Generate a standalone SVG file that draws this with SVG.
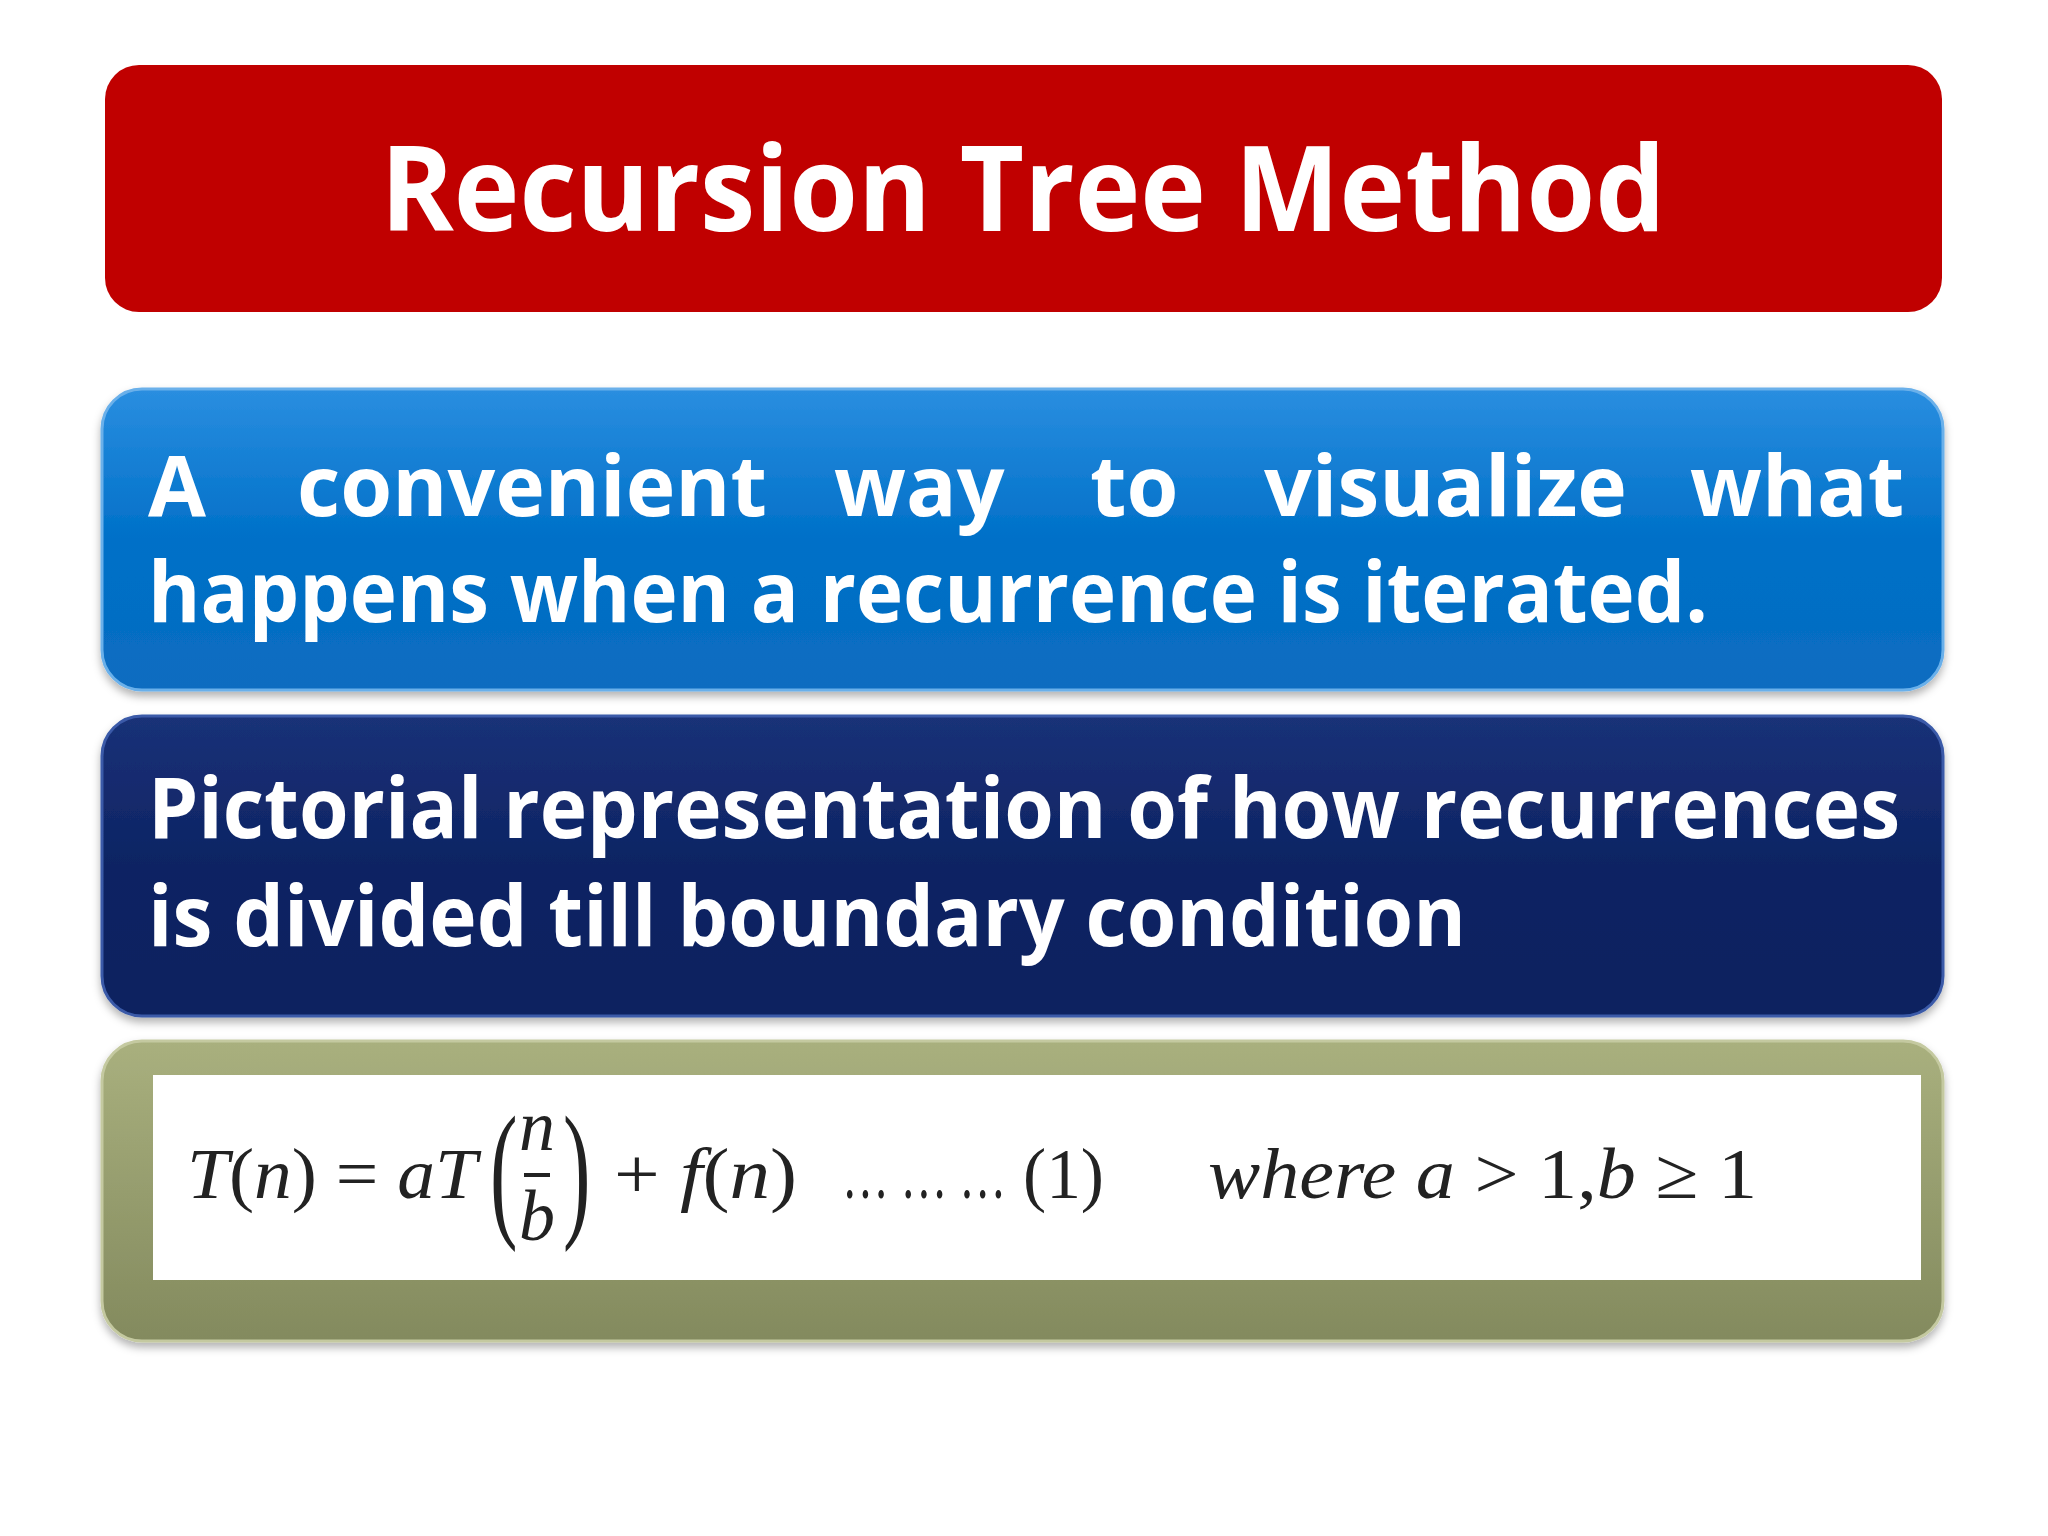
<svg xmlns="http://www.w3.org/2000/svg" width="2048" height="1536" viewBox="0 0 2048 1536">
<defs>
<linearGradient id="gb" x1="0" y1="0" x2="0" y2="1"><stop offset="0" stop-color="#2a8ee0"/><stop offset="0.5" stop-color="#0070c8"/><stop offset="1" stop-color="#0a6cc0"/></linearGradient>
<linearGradient id="gn" x1="0" y1="0" x2="0" y2="1"><stop offset="0" stop-color="#1a3178"/><stop offset="0.5" stop-color="#0d2463"/><stop offset="1" stop-color="#0b2160"/></linearGradient>
<linearGradient id="go" x1="0" y1="0" x2="0" y2="1"><stop offset="0" stop-color="#a9b07e"/><stop offset="1" stop-color="#838a5e"/></linearGradient>
<filter id="sh" x="-5%" y="-10%" width="110%" height="125%"><feDropShadow dx="0" dy="5" stdDeviation="4" flood-color="#000" flood-opacity="0.3"/></filter>
<style>
.h{font-family:"Open Sans","Liberation Sans",sans-serif;font-weight:bold;fill:#fff}
.m{font-family:"Liberation Serif",serif;font-style:italic;font-size:72px;fill:#222}
.r{font-style:normal}
</style>
</defs>
<rect width="2048" height="1536" fill="#fff"/>
<g id="title">
<rect x="105" y="65" width="1837" height="247" rx="34" fill="#c00000"/>
<text class="h" x="1023" y="231" font-size="118" text-anchor="middle" textLength="1285" lengthAdjust="spacingAndGlyphs">Recursion Tree Method</text>
</g>
<g id="box1">
<rect x="102" y="389" width="1841" height="301" rx="40" fill="url(#gb)" stroke="#6ab0ea" stroke-width="3" filter="url(#sh)"/>
<text class="h" y="516" font-size="84"><tspan x="148">A</tspan><tspan x="297">convenient</tspan><tspan x="834">way</tspan><tspan x="1090">to</tspan><tspan x="1264">visualize</tspan><tspan x="1690">what</tspan></text>
<text class="h" x="148" y="622" font-size="84" textLength="1560" lengthAdjust="spacingAndGlyphs">happens when a recurrence is iterated.</text>
</g>
<g id="box2">
<rect x="102" y="716" width="1841" height="300" rx="40" fill="url(#gn)" stroke="#3a5aa8" stroke-width="3" filter="url(#sh)"/>
<text class="h" x="148" y="838" font-size="84" textLength="1752" lengthAdjust="spacingAndGlyphs">Pictorial representation of how recurrences</text>
<text class="h" x="148" y="946" font-size="84" textLength="1318" lengthAdjust="spacingAndGlyphs">is divided till boundary condition</text>
</g>
<g id="box3">
<rect x="102" y="1041" width="1841" height="300" rx="40" fill="url(#go)" stroke="#c4c9a0" stroke-width="3" filter="url(#sh)"/>
<rect x="153" y="1075" width="1768" height="205" fill="#fff"/>
<text class="m" x="187" y="1198" textLength="290" lengthAdjust="spacingAndGlyphs">T<tspan class="r">(</tspan>n<tspan class="r">) = </tspan>aT</text>
<text class="m r" x="490" y="1220" style="font-size:150px" transform="translate(490 1220) scale(0.55 1) translate(-490 -1220)">(</text>
<text class="m" x="537" y="1150" text-anchor="middle">n</text>
<line x1="524" y1="1175" x2="550" y2="1175" stroke="#222" stroke-width="4"/>
<text class="m" x="537" y="1240" text-anchor="middle">b</text>
<text class="m r" x="563" y="1220" style="font-size:150px" transform="translate(563 1220) scale(0.55 1) translate(-563 -1220)">)</text>
<text class="m" x="614" y="1198" textLength="183" lengthAdjust="spacingAndGlyphs"><tspan class="r">+ </tspan>f<tspan class="r">(</tspan>n<tspan class="r">)</tspan></text>
<text class="m r" x="842" y="1198" textLength="164" lengthAdjust="spacingAndGlyphs">… … …</text>
<text class="m r" x="1023" y="1198" textLength="81" lengthAdjust="spacingAndGlyphs">(1)</text>
<text class="m" x="1208" y="1198" textLength="549" lengthAdjust="spacingAndGlyphs">where  a <tspan class="r">&gt; 1,</tspan>b <tspan class="r">≥ 1</tspan></text>
</g>
</svg>
